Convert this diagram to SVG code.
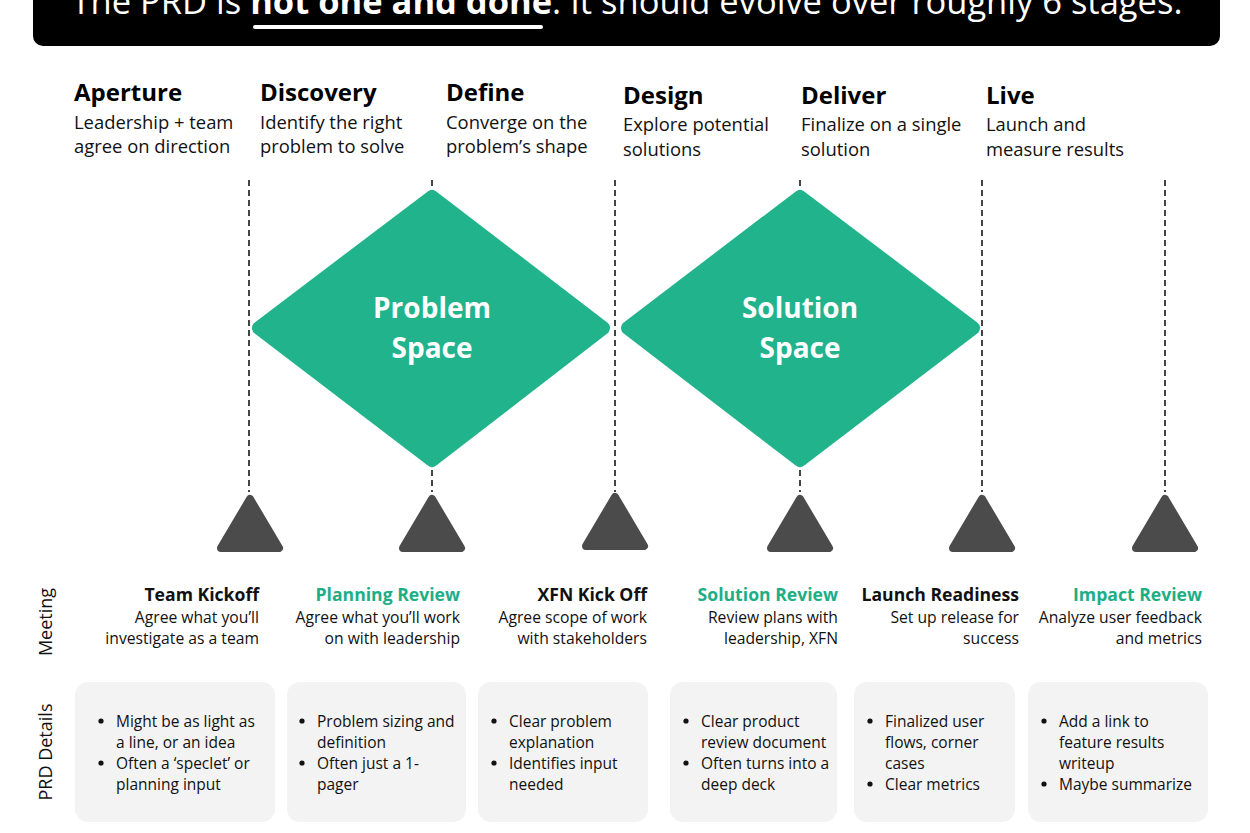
<svg xmlns="http://www.w3.org/2000/svg" width="1250" height="833" viewBox="0 0 1250 833">
<style>
text{font-family:"Open Sans","Liberation Sans",sans-serif;}
.title{fill:#fff;font-size:34.5px;}
.stg{font-size:24px;font-weight:700;fill:#000;}
.sub{font-size:18.4px;fill:#111;}
.dash{stroke:#444;stroke-width:2;stroke-dasharray:6 4;fill:none;}
.dia{fill:#21B48C;stroke:#21B48C;stroke-width:14;stroke-linejoin:round;}
.diat{fill:#fff;font-size:28px;font-weight:700;text-anchor:middle;}
.tri{fill:#4b4b4b;stroke:#4b4b4b;stroke-width:8;stroke-linejoin:round;}
.mt{font-size:17.6px;font-weight:700;text-anchor:end;fill:#111;}
.mt.g{fill:#1DAE86;}
.ms{font-size:15.7px;text-anchor:end;fill:#111;}
.side{font-size:18px;fill:#111;text-anchor:middle;}
.box{fill:#f3f3f3;}
.bt{font-size:15.5px;fill:#111;}
.bul{fill:#111;}
</style>
<rect width="1250" height="833" fill="#fff"/>
<g id="header">
<rect x="33" y="-20" width="1187" height="66" rx="10" fill="#000"/>
<text class="title" x="627" y="14" text-anchor="middle">The PRD is <tspan font-weight="700">not one and done</tspan>. It should evolve over roughly 6 stages.</text>
<rect x="253" y="25" width="290" height="4" rx="2" fill="#fff"/>
</g>
<g id="stages">
<g id="stage-aperture"><text class="stg" x="74" y="101">Aperture</text><text class="sub" x="74" y="129">Leadership + team</text><text class="sub" x="74" y="153">agree on direction</text></g>
<g id="stage-discovery"><text class="stg" x="260" y="101">Discovery</text><text class="sub" x="260" y="129">Identify the right</text><text class="sub" x="260" y="153">problem to solve</text></g>
<g id="stage-define"><text class="stg" x="446" y="101">Define</text><text class="sub" x="446" y="129">Converge on the</text><text class="sub" x="446" y="153">problem’s shape</text></g>
<g id="stage-design"><text class="stg" x="623" y="104">Design</text><text class="sub" x="623" y="131">Explore potential</text><text class="sub" x="623" y="156">solutions</text></g>
<g id="stage-deliver"><text class="stg" x="801" y="104">Deliver</text><text class="sub" x="801" y="131">Finalize on a single</text><text class="sub" x="801" y="156">solution</text></g>
<g id="stage-live"><text class="stg" x="986" y="104">Live</text><text class="sub" x="986" y="131">Launch and</text><text class="sub" x="986" y="156">measure results</text></g>
</g>
<g id="connectors">
<line class="dash" x1="249" y1="180" x2="249" y2="492"/>
<line class="dash" x1="432" y1="180" x2="432" y2="492"/>
<line class="dash" x1="615" y1="180" x2="615" y2="492"/>
<line class="dash" x1="800" y1="180" x2="800" y2="492"/>
<line class="dash" x1="982" y1="180" x2="982" y2="492"/>
<line class="dash" x1="1165" y1="180" x2="1165" y2="492"/>
</g>
<g id="problem-space">
<polygon class="dia" points="432,197 603,328 432,460 259,328"/>
<text class="diat" x="432" y="318">Problem</text>
<text class="diat" x="432" y="358">Space</text>
</g>
<g id="solution-space">
<polygon class="dia" points="800,197 973,328 800,460 628,328"/>
<text class="diat" x="800" y="318">Solution</text>
<text class="diat" x="800" y="358">Space</text>
</g>
<g id="markers">
<polygon class="tri" points="250,499 279,548 221,548"/>
<polygon class="tri" points="432,499 461,548 403,548"/>
<polygon class="tri" points="615,497 644,546 586,546"/>
<polygon class="tri" points="800,499 829,548 771,548"/>
<polygon class="tri" points="982,499 1011,548 953,548"/>
<polygon class="tri" points="1165,499 1194,548 1136,548"/>
</g>
<g id="side-labels">
<text class="side" transform="translate(52,622) rotate(-90)">Meeting</text>
<text class="side" transform="translate(52,752) rotate(-90)">PRD Details</text>
</g>
<g id="meetings">
<g id="m-team-kickoff"><text class="mt" x="259" y="601">Team Kickoff</text><text class="ms" x="259" y="623">Agree what you’ll</text><text class="ms" x="259" y="644">investigate as a team</text></g>
<g id="m-planning-review"><text class="mt g" x="460" y="601">Planning Review</text><text class="ms" x="460" y="623">Agree what you’ll work</text><text class="ms" x="460" y="644">on with leadership</text></g>
<g id="m-xfn"><text class="mt" x="647" y="601">XFN Kick Off</text><text class="ms" x="647" y="623">Agree scope of work</text><text class="ms" x="647" y="644">with stakeholders</text></g>
<g id="m-solution-review"><text class="mt g" x="838" y="601">Solution Review</text><text class="ms" x="838" y="623">Review plans with</text><text class="ms" x="838" y="644">leadership, XFN</text></g>
<g id="m-launch"><text class="mt" x="1019" y="601">Launch Readiness</text><text class="ms" x="1019" y="623">Set up release for</text><text class="ms" x="1019" y="644">success</text></g>
<g id="m-impact"><text class="mt g" x="1202" y="601">Impact Review</text><text class="ms" x="1202" y="623">Analyze user feedback</text><text class="ms" x="1202" y="644">and metrics</text></g>
</g>
<g id="details">
<g id="d1"><rect class="box" x="75" y="682" width="200" height="140" rx="13"/>
<circle class="bul" cx="101" cy="721" r="2.6"/><circle class="bul" cx="101" cy="763" r="2.6"/>
<text class="bt" x="116" y="727">Might be as light as</text><text class="bt" x="116" y="748">a line, or an idea</text><text class="bt" x="116" y="769">Often  a ‘speclet’ or</text><text class="bt" x="116" y="790">planning input</text></g>
<g id="d2"><rect class="box" x="287" y="682" width="179" height="140" rx="13"/>
<circle class="bul" cx="302" cy="721" r="2.6"/><circle class="bul" cx="302" cy="763" r="2.6"/>
<text class="bt" x="317" y="727">Problem sizing and</text><text class="bt" x="317" y="748">definition</text><text class="bt" x="317" y="769">Often just a 1-</text><text class="bt" x="317" y="790">pager</text></g>
<g id="d3"><rect class="box" x="478" y="682" width="170" height="140" rx="13"/>
<circle class="bul" cx="494" cy="721" r="2.6"/><circle class="bul" cx="494" cy="763" r="2.6"/>
<text class="bt" x="509" y="727">Clear problem</text><text class="bt" x="509" y="748">explanation</text><text class="bt" x="509" y="769">Identifies input</text><text class="bt" x="509" y="790">needed</text></g>
<g id="d4"><rect class="box" x="670" y="682" width="167" height="140" rx="13"/>
<circle class="bul" cx="686" cy="721" r="2.6"/><circle class="bul" cx="686" cy="763" r="2.6"/>
<text class="bt" x="701" y="727">Clear product</text><text class="bt" x="701" y="748">review document</text><text class="bt" x="701" y="769">Often turns into a</text><text class="bt" x="701" y="790">deep deck</text></g>
<g id="d5"><rect class="box" x="854" y="682" width="161" height="140" rx="13"/>
<circle class="bul" cx="870" cy="721" r="2.6"/><circle class="bul" cx="870" cy="784" r="2.6"/>
<text class="bt" x="885" y="727">Finalized user</text><text class="bt" x="885" y="748">flows, corner</text><text class="bt" x="885" y="769">cases</text><text class="bt" x="885" y="790">Clear metrics</text></g>
<g id="d6"><rect class="box" x="1028" y="682" width="180" height="140" rx="13"/>
<circle class="bul" cx="1044" cy="721" r="2.6"/><circle class="bul" cx="1044" cy="784" r="2.6"/>
<text class="bt" x="1059" y="727">Add a link to</text><text class="bt" x="1059" y="748">feature results</text><text class="bt" x="1059" y="769">writeup</text><text class="bt" x="1059" y="790">Maybe summarize</text></g>
</g>
</svg>
